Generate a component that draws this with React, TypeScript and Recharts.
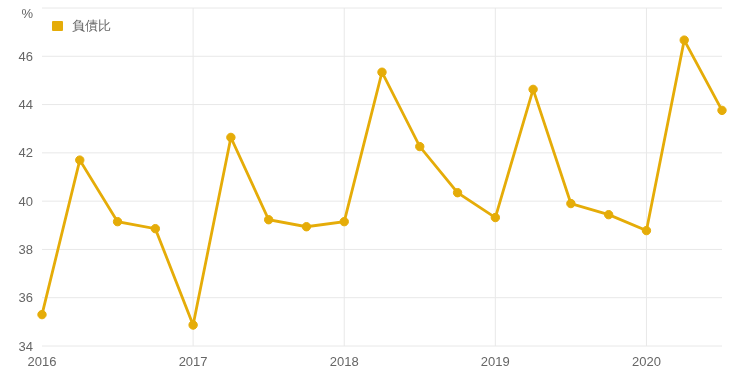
import { LineChart, Line, XAxis, YAxis, CartesianGrid, ReferenceLine } from "recharts"

const periods = [
  2016, 2016.25, 2016.5, 2016.75,
  2017, 2017.25, 2017.5, 2017.75,
  2018, 2018.25, 2018.5, 2018.75,
  2019, 2019.25, 2019.5, 2019.75,
  2020, 2020.25, 2020.5,
]
const debtRatio = [
  35.3, 41.7, 39.15, 38.86,
  34.87, 42.64, 39.23, 38.94,
  39.15, 45.34, 42.26, 40.35,
  39.32, 44.63, 39.9, 39.44,
  38.78, 46.67, 43.76,
]
const yearTicks = [2016, 2017, 2018, 2019, 2020]
const yearLines = [2017, 2018, 2019, 2020]
const valueTicks = [34, 36, 38, 40, 42, 44, 46, 48]

const LINE_COLOR = "#e5ac08"

const data = periods.map((t, i) => ({ t, v: debtRatio[i] }))

const YTick = (props: any) => {
  const { x, y, payload } = props
  const isUnit = payload.value === 48
  return (
    <text x={x} y={y} dy={isUnit ? 9 : 4.5} textAnchor="end" fill="#666" fontSize={13}>
      {isUnit ? "%" : payload.value}
    </text>
  )
}

const App = () => {
  return (
    <div style={{ position: "fixed", left: 0, top: 0, fontFamily: "'Liberation Sans', Arial, sans-serif" }}>
      <LineChart width={740} height={374} data={data} margin={{ top: 8, right: 18, bottom: 0, left: 0 }}>
        <CartesianGrid stroke="#e8e8e8" vertical={false} />
        {yearLines.map((y) => (
          <ReferenceLine key={y} x={y} stroke="#e8e8e8" />
        ))}
        <XAxis
          dataKey="t"
          type="number"
          domain={[2016, 2020.5]}
          ticks={yearTicks}
          axisLine={false}
          tickLine={false}
          tickSize={0}
          tickMargin={11}
          height={28}
          tick={{ fill: "#666", fontSize: 13 }}
        />
        <YAxis
          domain={[34, 48]}
          ticks={valueTicks}
          axisLine={false}
          tickLine={false}
          tickSize={0}
          tickMargin={9}
          width={42}
          tick={<YTick />}
        />
        <Line
          type="linear"
          dataKey="v"
          name="負債比"
          stroke={LINE_COLOR}
          strokeWidth={2.8}
          dot={{ r: 4.2, fill: LINE_COLOR, stroke: LINE_COLOR, strokeWidth: 1 }}
          isAnimationActive={false}
        />
      </LineChart>
      <div style={{ position: "absolute", top: 17, left: 52, display: "flex", alignItems: "center", fontSize: 13, color: "#666" }}>
        <span style={{ width: 11, height: 10, background: LINE_COLOR, display: "inline-block", marginRight: 9, borderRadius: 1 }} />
        負債比
      </div>
    </div>
  )
}

export default App
